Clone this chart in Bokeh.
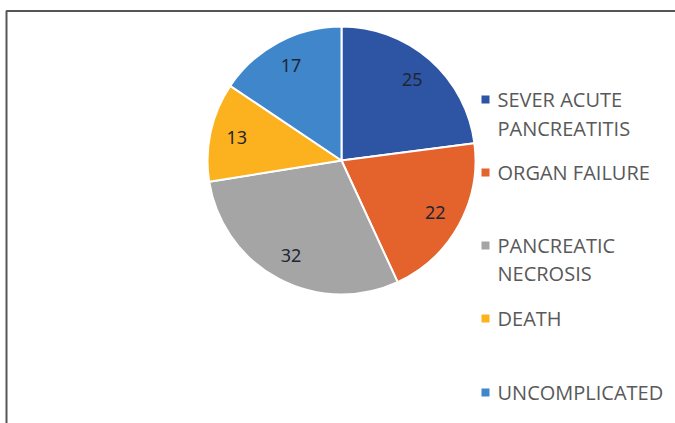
import math
from bokeh.plotting import figure
from bokeh.models import ColumnDataSource, Range1d
from bokeh.core.properties import value
from bokeh.embed import file_html
from bokeh.resources import INLINE

# ---- data ----
categories = ["SEVER ACUTE PANCREATITIS", "ORGAN FAILURE", "PANCREATIC NECROSIS", "DEATH", "UNCOMPLICATED"]
legend_lines = [["SEVER ACUTE", "PANCREATITIS"], ["ORGAN FAILURE"], ["PANCREATIC", "NECROSIS"], ["DEATH"], ["UNCOMPLICATED"]]
counts = [25, 22, 32, 13, 17]
colors = ["#2E54A4", "#E4622C", "#A5A5A5", "#FBB21E", "#3F86CB"]

W, H = 675, 423
p = figure(width=W, height=H, output_backend="svg", toolbar_location=None,
           x_range=Range1d(0, W), y_range=Range1d(0, H), min_border=0)
p.axis.visible = False
p.grid.visible = False
p.outline_line_color = None
p.background_fill_color = "white"
p.border_fill_color = "white"

def Y(py):
    return H - py

# frame (top and left edges of the cropped chart box)
p.line([6, 6, W], [0, Y(10.5), Y(10.5)], line_color="#555555", line_width=2)

cx, cy, r = 341, Y(160), 134
total = sum(counts)
starts, ends, mids = [], [], []
acc = 0
for v in counts:
    a0 = acc / total * 2 * math.pi
    acc += v
    a1 = acc / total * 2 * math.pi
    starts.append(math.pi / 2 - a0)
    ends.append(math.pi / 2 - a1)
    mids.append((a0 + a1) / 2)

src = ColumnDataSource(dict(start=starts, end=ends, color=colors, cat=categories))
p.wedge(x=cx, y=cy, radius=r, start_angle="start", end_angle="end", direction="clock",
        fill_color="color", line_color="white", line_width=2, source=src)

# data labels
lr = 0.8 * r
lx = [cx + lr * math.sin(m) for m in mids]
ly = [cy + lr * math.cos(m) for m in mids]
p.text(x=lx, y=ly, text=[str(c) for c in counts], text_align="center", text_baseline="middle",
       text_font=value("Noto Sans"), text_font_size="18px", text_color="#1f2633")

# legend
legend_y = [[99, 128], [172], [245, 273], [318], [392]]
sq_x, sq_y, tx, ty, tt = [], [], [], [], []
for lines, ys, col in zip(legend_lines, legend_y, colors):
    sq_x.append(485)
    sq_y.append(Y(ys[0]))
    for t, yy in zip(lines, ys):
        tx.append(497)
        ty.append(Y(yy))
        tt.append(t)
p.scatter(x=sq_x, y=sq_y, marker="square", size=8, fill_color=colors, line_color=None)
p.text(x=tx, y=ty, text=tt, text_align="left", text_baseline="middle",
       text_font=value("Open Sans"), text_font_size="20px", text_color="#595959")

open("out.html", "w").write(file_html(p, INLINE))
